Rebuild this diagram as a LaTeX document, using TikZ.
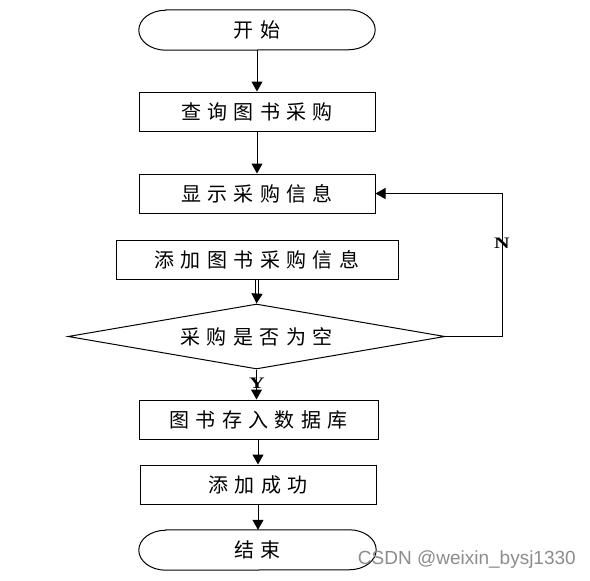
\documentclass[tikz,border=0pt]{standalone}
\usepackage{fontspec}
\newfontfamily\cjk[LetterSpace=32]{Noto Sans CJK SC}
\newfontfamily\lab{Liberation Serif}
\newfontfamily\wm{Liberation Sans}
\usetikzlibrary{arrows.meta,shapes.geometric}
\begin{document}
\begin{tikzpicture}[x=1pt,y=-1pt,
  cjkf/.style={font=\cjk\fontsize{20}{22}\selectfont},
  box/.style={draw, line width=1pt, minimum width=236pt, minimum height=39pt, inner sep=0pt, cjkf},
  term/.style={minimum width=236pt, minimum height=40pt, inner sep=0pt, cjkf},
  dec/.style={draw, line width=1pt, diamond, aspect=5.8, minimum width=377pt, minimum height=65pt, inner sep=0pt, cjkf},
  arr/.style={line width=1pt, -{Triangle[width=11pt,length=10pt]}},
  ln/.style={line width=1pt},
  yn/.style={font=\lab\bfseries\fontsize{16}{17}\selectfont, inner sep=0pt, xscale=1.35, transform shape}]
\useasboundingbox (0,0) rectangle (590,581);
% terminals
\node[term] (s) at (257,30) {开始};
\node[box] (q) at (257,111.5) {查询图书采购};
\node[box] (d) at (257,193.5) {显示采购信息};
\node[box, minimum width=282pt] (a) at (257,259.5) {添加图书采购信息};
\node[dec] (c) at (256.5,336.5) {采购是否为空};
\node[box, minimum width=239pt] (k) at (258.5,419.5) {图书存入数据库};
\node[box] (o) at (258,484.5) {添加成功};
\node[term, minimum width=237pt] (e) at (257.5,550) {结束};
\foreach \n in {s,e}{
  \draw[ln] ([xshift=27pt]\n.north west) -- ([xshift=-27pt]\n.north east)
    arc[start angle=90,end angle=-90,x radius=27pt,y radius=20pt]
    -- ([xshift=27pt]\n.south west)
    arc[start angle=270,end angle=90,x radius=27pt,y radius=20pt] -- cycle;
}
% connectors
\draw[arr] (s.south) -- (q.north);
\draw[arr] (q.south) -- (d.north);
\coordinate (m) at (257,295);
\draw[line width=0.9pt, double, double distance=1.6pt] (a.south) -- (m);
\draw[arr] (m) -- (c.north);
\draw[arr] (c.south) -- (c.south |- k.north);
\draw[arr] (o.north |- k.south) -- (o.north);
\draw[arr] (o.south) -- (o.south |- e.north);
\coordinate (r1) at (502,336.5);
\coordinate (r2) at (502,193.5);
\draw[arr] (c.east) -- (r1) -- (r2) -- (d.east);
\node[yn] (N) at (502,243) {N};
\node[yn] (Y) at (257,383) {Y};
\node[font=\wm\fontsize{19}{21}\selectfont, text=black!45, anchor=east, inner sep=0pt] (w) at (576,560) {CSDN @weixin\_bysj1330};
\end{tikzpicture}
\end{document}
